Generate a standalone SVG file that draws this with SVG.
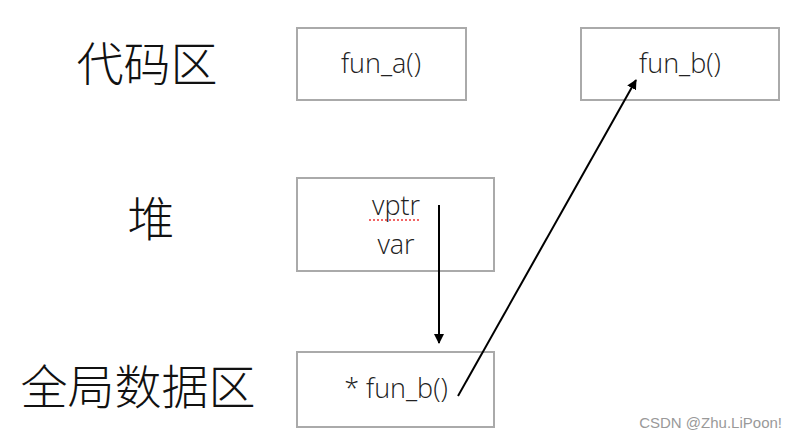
<svg xmlns="http://www.w3.org/2000/svg" width="790" height="437" viewBox="0 0 790 437">
<defs>
<style>
.box{fill:#fff;stroke:#aaa;stroke-width:2}
.t{font-family:"Open Sans","Liberation Sans",sans-serif;font-weight:300;font-size:27px;fill:#222;text-anchor:middle}
.cn{font-family:"Noto Sans CJK SC",sans-serif;font-weight:300;font-size:47px;fill:#111;text-anchor:middle}
.ln{stroke:#000;stroke-width:2;fill:none}
</style>
<marker id="ah" markerWidth="10" markerHeight="10" refX="9" refY="5" orient="auto" markerUnits="userSpaceOnUse"><path d="M0,0 L10,5 L0,10 z" fill="#000"/></marker>
</defs>
<rect width="790" height="437" fill="#fff"/>
<g id="labels">
<text class="cn" x="147" y="81">代码区</text>
<text class="cn" x="151" y="236">堆</text>
<text class="cn" x="138" y="404">全局数据区</text>
</g>
<g id="fun_a"><rect class="box" x="297" y="28" width="169" height="72"/><text class="t" x="381" y="73">fun_a()</text></g>
<g id="fun_b"><rect class="box" x="581" y="28" width="198" height="72"/><text class="t" x="680" y="73">fun_b()</text></g>
<g id="heap"><rect class="box" x="297" y="178" width="197" height="93"/><text class="t" x="396" y="215">vptr</text><line x1="369" y1="220" x2="421" y2="220" stroke="#e33" stroke-width="1.5" stroke-dasharray="2,2"/><text class="t" x="396" y="254">var</text></g>
<g id="global"><rect class="box" x="297" y="352" width="197" height="75"/><text class="t" x="396" y="398">* fun_b()</text></g>
<g id="connectors">
<line class="ln" x1="458" y1="396" x2="636" y2="80" marker-end="url(#ah)"/>
<line class="ln" x1="439" y1="205" x2="439" y2="343" marker-end="url(#ah)"/>
</g>
<text x="782" y="428" font-family="Liberation Sans,sans-serif" font-size="15" fill="#999" text-anchor="end">CSDN @Zhu.LiPoon!</text>
</svg>
